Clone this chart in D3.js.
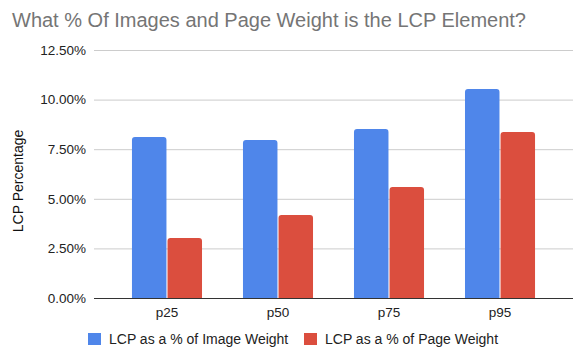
<!DOCTYPE html>
<html><head><meta charset="utf-8">
<script src="https://cdn.jsdelivr.net/npm/d3@7"></script>
<style>body{margin:0;background:#fff}svg{display:block;font-family:"Liberation Sans",Arial,sans-serif}</style>
</head><body><svg id="c" width="579" height="359"></svg>
<script>
const categories = ["p25","p50","p75","p95"];
const seriesNames = ["LCP as a % of Image Weight","LCP as a % of Page Weight"];
const imageWeight = [8.11, 7.96, 8.52, 10.53];
const pageWeight = [3.02, 4.18, 5.59, 8.37];
const yTicks = [0, 2.5, 5, 7.5, 10, 12.5];
const colors = ["#4f86ea", "#db4e3e"];
const title = "What % Of Images and Page Weight is the LCP Element?";
const yTitle = "LCP Percentage";

const svg = d3.select("#c");
const L = 94, R = 573, T = 50, B = 298;
const y = d3.scaleLinear().domain([0, 12.5]).range([B, T]);
const x = d3.scaleBand().domain(categories).range([L, R]).paddingInner(0.369).paddingOuter(0.342);
const xs = d3.scaleBand().domain([0,1]).range([0, x.bandwidth()]).paddingInner(0.03);

svg.append("text").attr("x", 12).attr("y", 27).attr("font-size", 20).attr("fill", "#757575").text(title);

const ya = svg.append("g").attr("transform", `translate(${L},0)`)
  .call(d3.axisLeft(y).tickValues(yTicks).tickSize(-(R - L)).tickFormat(d => d.toFixed(2) + "%"));
ya.select(".domain").remove();
ya.selectAll(".tick line").attr("stroke", "#cccccc");
ya.selectAll(".tick text").attr("x", -8).attr("font-size", 13.5).attr("fill", "#222").attr("font-family", "Liberation Sans, Arial, sans-serif");

svg.append("text").attr("transform", `translate(23,181) rotate(-90)`).attr("text-anchor", "middle")
  .attr("font-size", 14).attr("fill", "#111").text(yTitle);

const series = [imageWeight, pageWeight];
const r = 3;
series.forEach((vals, si) => {
  svg.append("g").selectAll("path").data(categories).join("path")
    .attr("fill", colors[si])
    .attr("d", (c, i) => {
      const x0 = x(c) + xs(si), w = xs.bandwidth(), y0 = y(vals[i]);
      return `M${x0},${B}V${y0 + r}Q${x0},${y0} ${x0 + r},${y0}H${x0 + w - r}Q${x0 + w},${y0} ${x0 + w},${y0 + r}V${B}Z`;
    });
});

const xa = svg.append("g").attr("transform", `translate(0,${B})`).call(d3.axisBottom(x).tickSize(0));
xa.select(".domain").attr("stroke", "#333").attr("d", `M${L},0.5H${R}`);
xa.selectAll(".tick text").attr("dy", 0).attr("y", 19).attr("font-size", 13.5).attr("fill", "#222").attr("font-family", "Liberation Sans, Arial, sans-serif");

const lg = svg.append("g");
const lx = [88, 304];
seriesNames.forEach((n, i) => {
  lg.append("rect").attr("x", lx[i]).attr("y", 333).attr("width", 13).attr("height", 12).attr("fill", colors[i]);
  lg.append("text").attr("x", lx[i] + 21).attr("y", 344).attr("font-size", 14).attr("fill", "#222").text(n);
});
</script></body></html>
